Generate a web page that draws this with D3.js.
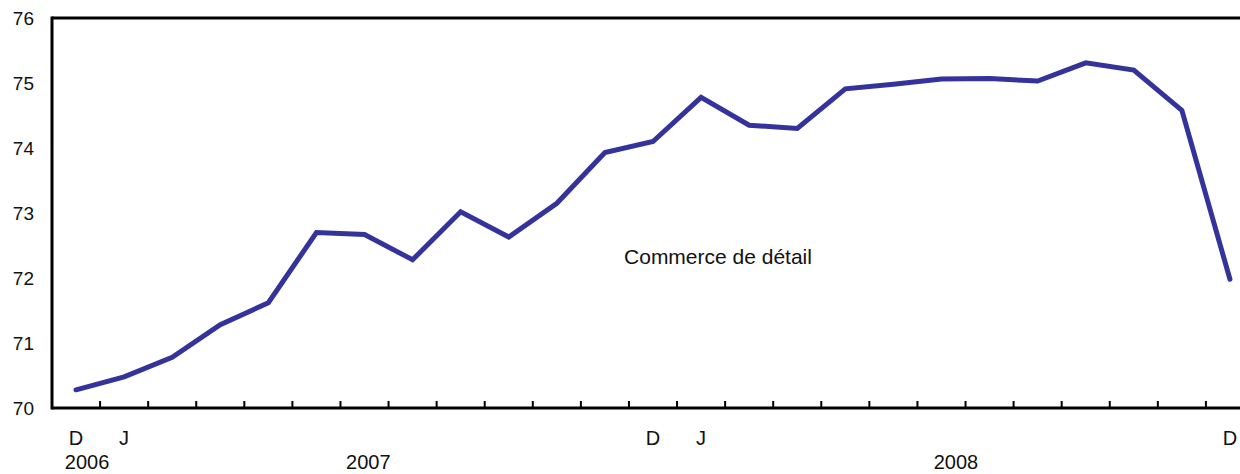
<!DOCTYPE html>
<html>
<head>
<meta charset="utf-8">
<script src="https://cdn.jsdelivr.net/npm/d3@7"></script>
<style>
  body { margin: 0; background: #fff; }
  text { font-family: "Liberation Sans", Arial, sans-serif; fill: #111; }
</style>
</head>
<body>
<div id="chart"></div>
<script>
// valeurs mensuelles, déc. 2006 à déc. 2008
const months = ['D','J','F','M','A','M','J','J','A','S','O','N',
                'D','J','F','M','A','M','J','J','A','S','O','N','D'];
const values = [70.28, 70.48, 70.78, 71.28, 71.62, 72.70, 72.67, 72.28, 73.02, 72.63,
                73.15, 73.93, 74.10, 74.78, 74.35, 74.30, 74.91, 74.98, 75.06, 75.07,
                75.03, 75.31, 75.20, 74.58, 71.98];
const yTicks = [70, 71, 72, 73, 74, 75, 76];
// mois affichés sous l'axe
const shownMonths = [0, 1, 12, 13, 24];
// étiquettes d'années (position en mois)
const years = [{ label: '2006', at: 0.23 }, { label: '2007', at: 6.08 }, { label: '2008', at: 18.3 }];
const seriesLabel = 'Commerce de détail';

const width = 1240;
const height = 474;
const margin = { top: 18, right: -14, bottom: 66, left: 52 };

const svg = d3.select('#chart')
  .append('svg')
  .attr('width', width)
  .attr('height', height);

const x = d3.scaleBand()
  .domain(d3.range(months.length))
  .range([margin.left, width - margin.right]);

const y = d3.scaleLinear()
  .domain([70, 76])
  .range([height - margin.bottom, margin.top]);

const cx = i => x(i) + x.bandwidth() / 2;

// ticks de l'axe des x (limites entre les mois)
svg.append('g')
  .selectAll('line')
  .data(d3.range(1, months.length))
  .enter()
  .append('line')
  .attr('x1', d => x(d))
  .attr('x2', d => x(d))
  .attr('y1', y(70))
  .attr('y2', y(70) - 7)
  .attr('stroke', '#000')
  .attr('stroke-width', 2);

// cadre
svg.append('line')
  .attr('x1', margin.left).attr('x2', width)
  .attr('y1', y(76)).attr('y2', y(76))
  .attr('stroke', '#000').attr('stroke-width', 3);
svg.append('line')
  .attr('x1', margin.left).attr('x2', width)
  .attr('y1', y(70)).attr('y2', y(70))
  .attr('stroke', '#000').attr('stroke-width', 3);
svg.append('line')
  .attr('x1', margin.left).attr('x2', margin.left)
  .attr('y1', y(76) - 1.5).attr('y2', y(70) + 1.5)
  .attr('stroke', '#000').attr('stroke-width', 3);

// étiquettes de l'axe des y
svg.append('g')
  .selectAll('text')
  .data(yTicks)
  .enter()
  .append('text')
  .attr('x', 34)
  .attr('y', d => y(d))
  .attr('dy', '0.35em')
  .attr('text-anchor', 'end')
  .attr('font-size', '19px')
  .text(d => d);

// mois
svg.append('g')
  .selectAll('text')
  .data(shownMonths)
  .enter()
  .append('text')
  .attr('x', d => cx(d))
  .attr('y', 445)
  .attr('text-anchor', 'middle')
  .attr('font-size', '20px')
  .text(d => months[d]);

// années
svg.append('g')
  .selectAll('text')
  .data(years)
  .enter()
  .append('text')
  .attr('x', d => cx(0) + d.at * x.step())
  .attr('y', 469)
  .attr('text-anchor', 'middle')
  .attr('font-size', '20px')
  .text(d => d.label);

// série
const line = d3.line()
  .x((d, i) => cx(i))
  .y(d => y(d));

svg.append('path')
  .datum(values)
  .attr('d', line)
  .attr('fill', 'none')
  .attr('stroke', '#33339b')
  .attr('stroke-width', 5)
  .attr('stroke-linejoin', 'miter')
  .attr('stroke-linecap', 'round');

svg.append('text')
  .attr('x', 718)
  .attr('y', 264)
  .attr('text-anchor', 'middle')
  .attr('font-size', '21px')
  .text(seriesLabel);
</script>
</body>
</html>
